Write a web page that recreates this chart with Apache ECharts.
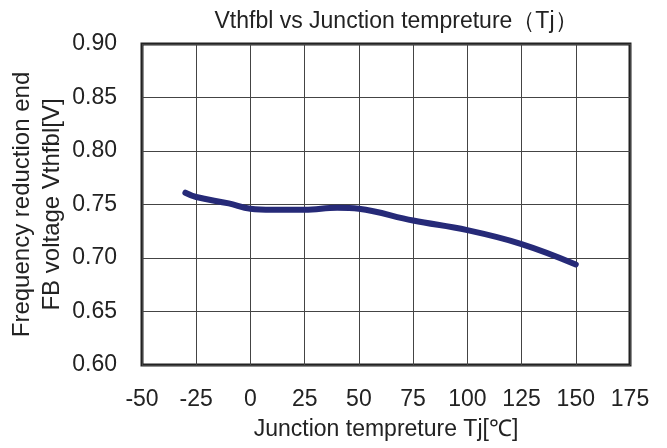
<!DOCTYPE html>
<html><head><meta charset="utf-8">
<script src="https://cdn.jsdelivr.net/npm/echarts@6/dist/echarts.min.js"></script>
<style>html,body{margin:0;padding:0;background:#fff}#c{width:667px;height:448px}</style>
</head><body><div id="c"></div>
<script>
const tempC = [-30, -25, -10, 0, 10, 25, 40, 50, 75, 100, 125, 150];
const vthfbl = [0.761, 0.757, 0.751, 0.746, 0.745, 0.745, 0.747, 0.746, 0.735, 0.726, 0.713, 0.694];
const titleText = 'Vthfbl vs Junction tempreture（Tj）';
const xName = 'Junction tempreture Tj[\u2103]';
const yName = 'Frequency reduction end\nFB voltage Vthfbl[V]';

const chart = echarts.init(document.getElementById('c'));
const font = 'Liberation Sans, Arial, sans-serif';
chart.setOption({
  animation: false,
  title: {text: titleText, left: 391, top: 5, textAlign: 'center',
    textStyle: {fontFamily: font, fontSize: 23, fontWeight: 'normal', color: '#222'}},
  grid: {left: 142, right: 37, top: 44, bottom: 83, show: true, borderColor: '#222', borderWidth: 3,
    containLabel: false, outerBoundsMode: 'none'},
  xAxis: {type: 'value', min: -50, max: 175, interval: 25,
    name: xName, nameLocation: 'middle', nameGap: 53, nameMoveOverlap: false,
    nameTextStyle: {fontFamily: font, fontSize: 23, color: '#222'},
    axisLine: {show: false}, axisTick: {show: false},
    axisLabel: {fontFamily: font, fontSize: 23, color: '#222', margin: 23},
    splitLine: {show: true, lineStyle: {color: '#444', width: 1}}},
  yAxis: {type: 'value', min: 0.60, max: 0.90, interval: 0.05,
    name: yName, nameLocation: 'middle', nameGap: 75, nameRotate: 90, nameMoveOverlap: false,
    nameTextStyle: {fontFamily: font, fontSize: 24, color: '#222', lineHeight: 30},
    axisLine: {show: false}, axisTick: {show: false},
    axisLabel: {fontFamily: font, fontSize: 23, color: '#222', margin: 25,
      formatter: v => v.toFixed(2)},
    splitLine: {show: true, lineStyle: {color: '#444', width: 1}}},
  series: [{type: 'line', data: tempC.map((t, i) => [t, vthfbl[i]]),
    smooth: 0.4, showSymbol: false,
    lineStyle: {color: '#262a78', width: 6, cap: 'round'}}]
});
</script></body></html>
